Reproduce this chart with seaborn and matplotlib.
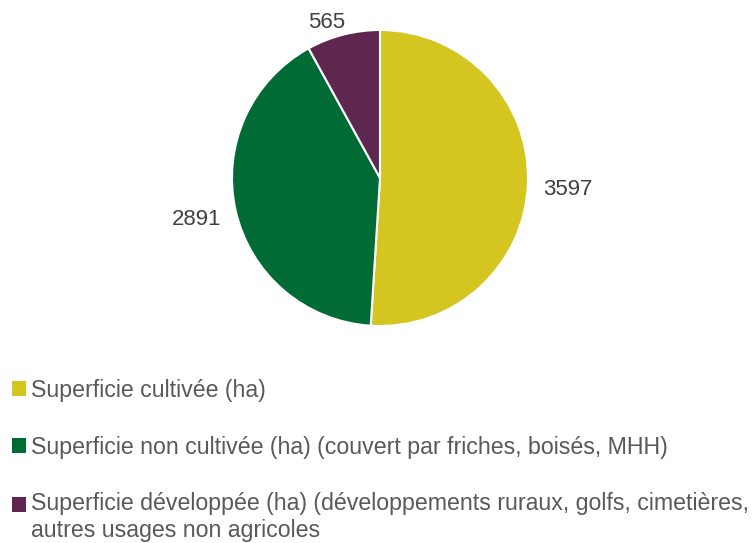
import matplotlib
matplotlib.use("Agg")
import matplotlib.pyplot as plt
import seaborn as sns
from matplotlib.legend_handler import HandlerPatch

# Data
categories = [
    "Superficie cultivée (ha)",
    "Superficie non cultivée (ha) (couvert par friches, boisés, MHH)",
    "Superficie développée (ha) (développements ruraux, golfs, cimetières,\nautres usages non agricoles",
]
values = [3597, 2891, 565]
colors = ["#D4C520", "#006B35", "#5E2750"]


class HandlerFirstLine(HandlerPatch):
    # square next to the first line of a two-line label
    def create_artists(self, legend, orig_handle, xdescent, ydescent,
                       width, height, fontsize, trans):
        return super().create_artists(legend, orig_handle, xdescent,
                                      ydescent - 0.57 * fontsize,
                                      width, height, fontsize, trans)


sns.set_theme(style="white")
plt.rcParams['font.family'] = ['Liberation Sans', 'DejaVu Sans']

W, H = 753, 543
fig = plt.figure(figsize=(W / 100, H / 100), dpi=100)

# pie axes: centre (380, 178), radius 148 px
cx, cy, r = 380, 178, 148
ax = fig.add_axes([(cx - r) / W, 1 - (cy + r) / H, 2 * r / W, 2 * r / H])

wedges, texts = ax.pie(
    values,
    colors=colors,
    startangle=90,
    counterclock=False,
    labels=[str(v) for v in values],
    labeldistance=1.27,
    wedgeprops=dict(edgecolor="white", linewidth=1.5),
    textprops=dict(fontsize=16, color="#404040"),
)
for t in texts:
    t.set_ha("center")
    t.set_va("center")
x, y = texts[0].get_position()
texts[0].set_position((x, y - 0.04))
# small slice label sits closer to the pie
texts[2].set_position((-0.36, 1.05))
ax.set_xlim(-1, 1)
ax.set_ylim(-1, 1)

leg = fig.legend(
    wedges, categories,
    loc="upper left",
    bbox_to_anchor=(12 / W, 1 - 379 / H),
    frameon=False,
    borderpad=0,
    borderaxespad=0,
    fontsize=16.7,
    labelcolor="#595959",
    handlelength=0.62,
    handleheight=0.62,
    handletextpad=0.2,
    labelspacing=1.45,
    handler_map={wedges[2]: HandlerFirstLine()},
)
for h in leg.legend_handles:
    h.set_edgecolor("none")

fig.savefig("out.png", dpi=100)
